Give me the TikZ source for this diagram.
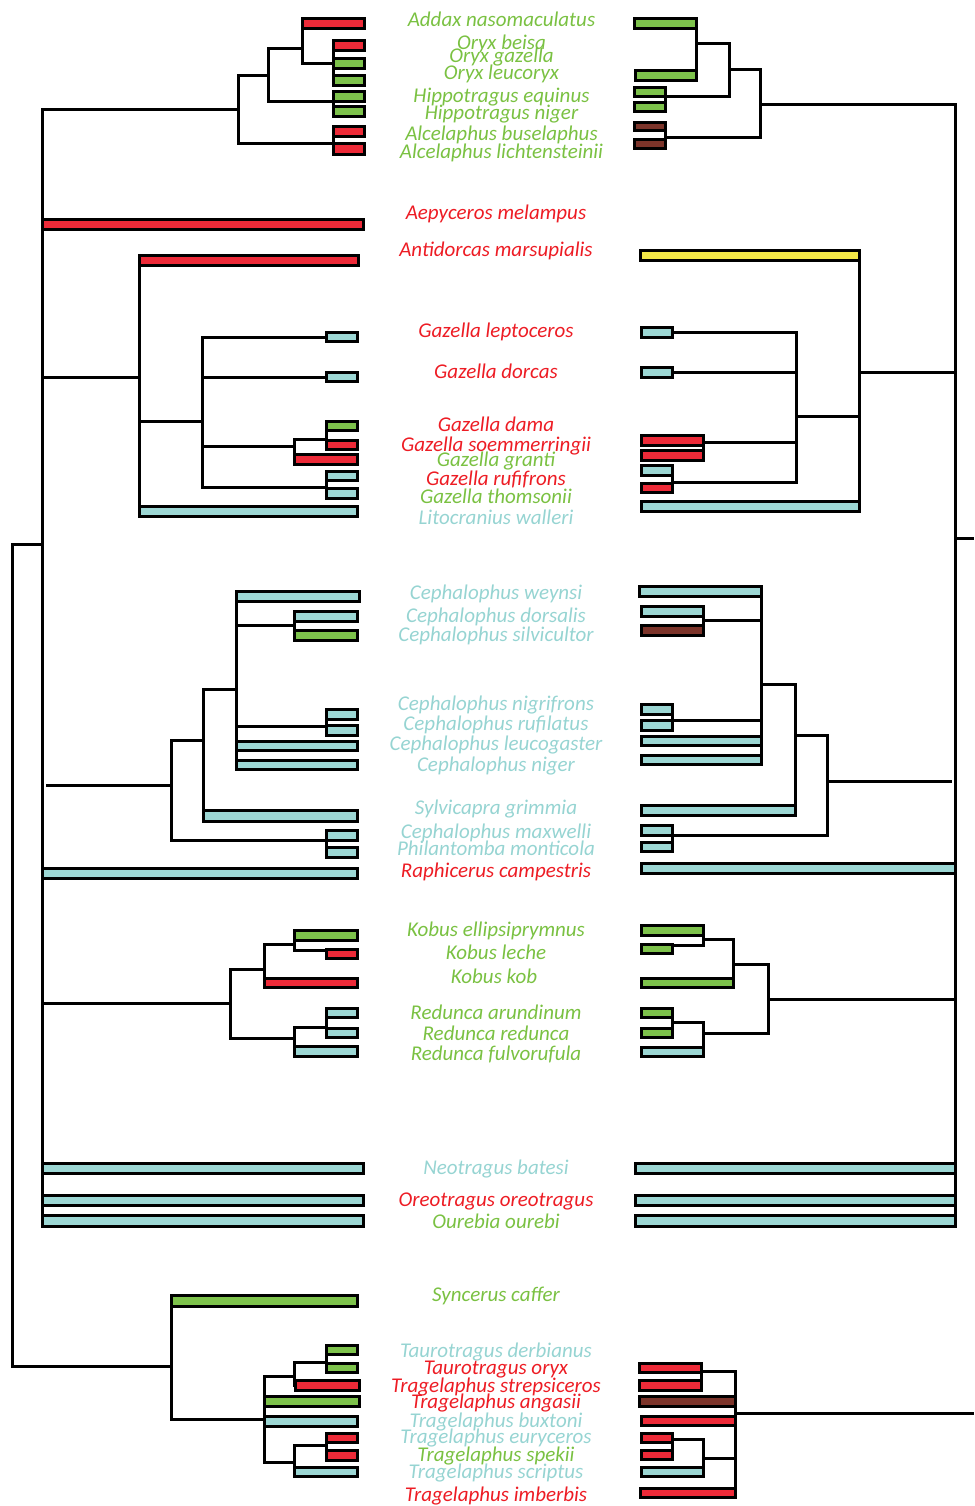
\documentclass[tikz,border=0pt]{standalone}
\usepackage{fontspec}
\setmainfont{Carlito}
\pgfdeclarelayer{bg}
\pgfsetlayers{bg,main}

\definecolor{cred}{RGB}{237,42,56}
\definecolor{cgreen}{RGB}{125,194,75}
\definecolor{ccyan}{RGB}{156,215,212}
\definecolor{cbrown}{RGB}{124,52,42}
\definecolor{cyellow}{RGB}{244,233,72}
\definecolor{tred}{RGB}{237,28,36}
\definecolor{tgreen}{RGB}{122,193,66}
\definecolor{tcyan}{RGB}{150,212,210}

\tikzset{
  barbox/.style={draw=black, line width=3.2pt, inner sep=0pt, outer sep=0pt, rectangle},
  branch/.style={draw=black, line width=3pt},
  taxon/.style={font=\fontsize{21}{21}\selectfont\itshape, inner sep=0pt, anchor=base},
}
% bar node from its outer corners: name, x1, y1, x2, y2, fill
\newcommand\taxbar[6]{\node[barbox, fill=#6, minimum width={#4-#2-3.2}, minimum height={#5-#3-3.2}] (#1) at ({(#2+#4)/2},{(#3+#5)/2}) {};}

\begin{document}
\begin{tikzpicture}[x=1pt,y=-1pt]
\useasboundingbox (0,0) rectangle (974,1506);

% ---------- left bars ----------
\taxbar{la1}{301}{17}{366}{30}{cred}
\taxbar{la2}{332}{39}{366}{52}{cred}
\taxbar{la3}{332}{57}{366}{70}{cgreen}
\taxbar{la4}{332}{74}{366}{87}{cgreen}
\taxbar{la5}{332}{90}{366}{103}{cgreen}
\taxbar{la6}{332}{105}{366}{118}{cgreen}
\taxbar{la7}{332}{125}{366}{138}{cred}
\taxbar{la8}{332}{142}{366}{156}{cred}
\taxbar{lb1}{41}{218}{365}{231}{cred}
\taxbar{lb2}{138}{254}{360}{267}{cred}
\taxbar{lc1}{325}{331}{359}{343}{ccyan}
\taxbar{lc2}{325}{371}{359}{383}{ccyan}
\taxbar{lc3}{325}{420}{359}{432}{cgreen}
\taxbar{lc4}{325}{439}{359}{451}{cred}
\taxbar{lc5}{293}{453}{359}{466}{cred}
\taxbar{lc6}{325}{470}{359}{482}{ccyan}
\taxbar{lc7}{325}{487}{359}{500}{ccyan}
\taxbar{lc8}{138}{505}{359}{518}{ccyan}
\taxbar{ld1}{235}{590}{361}{603}{ccyan}
\taxbar{ld2}{293}{610}{359}{623}{ccyan}
\taxbar{ld3}{293}{629}{359}{642}{cgreen}
\taxbar{ld4}{325}{708}{359}{721}{ccyan}
\taxbar{ld5}{325}{724}{359}{737}{ccyan}
\taxbar{ld6}{235}{740}{359}{752}{ccyan}
\taxbar{ld7}{235}{759}{359}{771}{ccyan}
\taxbar{ld8}{202}{809}{359}{823}{ccyan}
\taxbar{ld9}{325}{829}{359}{842}{ccyan}
\taxbar{ld10}{325}{846}{359}{859}{ccyan}
\taxbar{ld11}{41}{867}{359}{880}{ccyan}
\taxbar{le1}{293}{929}{359}{942}{cgreen}
\taxbar{le2}{325}{948}{359}{960}{cred}
\taxbar{le3}{263}{977}{359}{989}{cred}
\taxbar{le4}{325}{1007}{359}{1019}{ccyan}
\taxbar{le5}{325}{1027}{359}{1039}{ccyan}
\taxbar{le6}{293}{1045}{359}{1058}{ccyan}
\taxbar{lf1}{41}{1162}{365}{1175}{ccyan}
\taxbar{lf2}{41}{1194}{365}{1207}{ccyan}
\taxbar{lf3}{41}{1214}{365}{1228}{ccyan}
\taxbar{lg1}{170}{1294}{359}{1308}{cgreen}
\taxbar{lg2}{325}{1344}{359}{1356}{cgreen}
\taxbar{lg3}{325}{1362}{359}{1374}{cgreen}
\taxbar{lg4}{294}{1379}{361}{1392}{cred}
\taxbar{lg5}{263}{1395}{361}{1408}{cgreen}
\taxbar{lg6}{263}{1415}{359}{1428}{ccyan}
\taxbar{lg7}{325}{1432}{359}{1444}{cred}
\taxbar{lg8}{325}{1449}{359}{1462}{cred}
\taxbar{lg9}{293}{1466}{359}{1478}{ccyan}

% ---------- right bars ----------
\taxbar{ra1}{633}{17}{698}{30}{cgreen}
\taxbar{ra4}{634}{69}{698}{82}{cgreen}
\taxbar{ra5}{633}{86}{667}{98}{cgreen}
\taxbar{ra6}{633}{101}{667}{113}{cgreen}
\taxbar{ra7}{633}{121}{667}{132}{cbrown}
\taxbar{ra8}{633}{138}{667}{150}{cbrown}
\taxbar{rb2}{639}{249}{861}{262}{cyellow}
\taxbar{rc1}{640}{326}{674}{339}{ccyan}
\taxbar{rc2}{640}{366}{674}{379}{ccyan}
\taxbar{rc4}{640}{434}{705}{447}{cred}
\taxbar{rc5}{640}{449}{705}{462}{cred}
\taxbar{rc6}{640}{464}{674}{477}{ccyan}
\taxbar{rc7}{640}{482}{674}{494}{cred}
\taxbar{rc8}{640}{500}{861}{513}{ccyan}
\taxbar{rd1}{638}{585}{763}{598}{ccyan}
\taxbar{rd2}{640}{605}{705}{618}{ccyan}
\taxbar{rd3}{640}{624}{705}{637}{cbrown}
\taxbar{rd4}{640}{703}{674}{716}{ccyan}
\taxbar{rd5}{640}{719}{674}{732}{ccyan}
\taxbar{rd6}{640}{735}{763}{747}{ccyan}
\taxbar{rd7}{640}{754}{763}{766}{ccyan}
\taxbar{rd8}{640}{804}{797}{817}{ccyan}
\taxbar{rd9}{640}{824}{674}{837}{ccyan}
\taxbar{rd10}{640}{841}{674}{853}{ccyan}
\taxbar{rd11}{640}{862}{957}{875}{ccyan}
\taxbar{re1}{640}{924}{705}{937}{cgreen}
\taxbar{re2}{640}{943}{674}{955}{cgreen}
\taxbar{re3}{640}{977}{735}{989}{cgreen}
\taxbar{re4}{640}{1007}{674}{1019}{cgreen}
\taxbar{re5}{640}{1027}{674}{1039}{cgreen}
\taxbar{re6}{640}{1046}{705}{1058}{ccyan}
\taxbar{rf1}{634}{1162}{957}{1175}{ccyan}
\taxbar{rf2}{634}{1194}{957}{1207}{ccyan}
\taxbar{rf3}{634}{1214}{957}{1228}{ccyan}
\taxbar{rg3}{638}{1362}{703}{1374}{cred}
\taxbar{rg4}{638}{1379}{703}{1392}{cred}
\taxbar{rg5}{638}{1395}{737}{1408}{cbrown}
\taxbar{rg6}{640}{1415}{737}{1427}{cred}
\taxbar{rg7}{640}{1432}{674}{1444}{cred}
\taxbar{rg8}{640}{1449}{674}{1461}{cred}
\taxbar{rg9}{640}{1466}{705}{1478}{ccyan}
\taxbar{rg10}{639}{1487}{737}{1499}{cred}

\begin{pgfonlayer}{bg}
% ---------- left tree ----------
\coordinate (rootL) at (12.3,544);
\coordinate (spL) at (42.5,544);
\coordinate (bovL) at (171.5,1366);
\draw[branch] (spL) -- (rootL) |- (bovL);

\coordinate (aL) at (238.5,109.3);
\coordinate (bL) at (268.5,76);
\coordinate (cL) at (302.5,48.3);
\coordinate (oryxL) at (333.5,63.3);
\coordinate (hipL) at (333.5,101.7);
\coordinate (alcL) at (333.5,144);
\draw[branch] (spL) |- (aL);
\draw[branch] (aL) |- (bL);
\draw[branch] (aL) |- (alcL);
\draw[branch] (bL) |- (cL);
\draw[branch] (bL) |- (hipL);
\draw[branch] (cL) |- (la1.west);
\draw[branch] (cL) |- (oryxL);
\foreach \n in {la2,la3,la4} \draw[branch] (oryxL) |- (\n.west);
\foreach \n in {la5,la6} \draw[branch] (hipL) |- (\n.west);
\foreach \n in {la7,la8} \draw[branch] (alcL) |- (\n.west);

\draw[branch] (spL) |- (lb1.west);

\coordinate (G1) at (139.5,377.3);
\coordinate (G2) at (202.5,421.3);
\coordinate (G3) at (294.5,446.7);
\coordinate (G4) at (326.5,487.7);
\coordinate (G5) at (326.5,439.5);
\draw[branch] (spL) |- (G1);
\draw[branch] (G1) |- (lb2.west);
\draw[branch] (G1) |- (G2);
\draw[branch] (G1) |- (lc8.west);
\draw[branch] (G2) |- (lc1.west);
\draw[branch] (G2) |- (lc2.west);
\draw[branch] (G2) |- (G3);
\draw[branch] (G2) |- (G4);
\draw[branch] (G3) |- (G5);
\draw[branch] (G3) |- (lc5.west);
\foreach \n in {lc3,lc4} \draw[branch] (G5) |- (\n.west);
\foreach \n in {lc6,lc7} \draw[branch] (G4) |- (\n.west);

\coordinate (cstubL) at (46,785.7);
\coordinate (H1) at (171,785.7);
\coordinate (H2) at (203.5,740);
\coordinate (H3) at (326.5,840.7);
\coordinate (H4) at (236.5,689.7);
\coordinate (H5) at (294.5,625);
\coordinate (H6) at (326.5,726);
\draw[branch] (cstubL) -- (H1);
\draw[branch] (H1) |- (H2);
\draw[branch] (H1) |- (H3);
\draw[branch] (H2) |- (H4);
\draw[branch] (H2) |- (ld8.west);
\draw[branch] (H4) |- (ld1.west);
\draw[branch] (H4) |- (H5);
\draw[branch] (H4) |- (H6);
\draw[branch] (H4) |- (ld6.west);
\draw[branch] (H4) |- (ld7.west);
\foreach \n in {ld2,ld3} \draw[branch] (H5) |- (\n.west);
\foreach \n in {ld4,ld5} \draw[branch] (H6) |- (\n.west);
\foreach \n in {ld9,ld10} \draw[branch] (H3) |- (\n.west);
\draw[branch] (spL) |- (ld11.west);

\coordinate (K1) at (230.7,1003.3);
\coordinate (K2) at (264.5,969);
\coordinate (K3) at (294.5,1038.3);
\coordinate (K4) at (294.5,944);
\coordinate (K6) at (326.5,1027.3);
\draw[branch] (spL) |- (K1);
\draw[branch] (K1) |- (K2);
\draw[branch] (K1) |- (K3);
\draw[branch] (K2) |- (K4);
\draw[branch] (K2) |- (le3.west);
\draw[branch] (K4) |- (le1.west);
\draw[branch] (K4) |- ([yshift=4pt]le2.west);
\draw[branch] (K3) |- (K6);
\draw[branch] (K3) |- (le6.west);
\foreach \n in {le4,le5} \draw[branch] (K6) |- (\n.west);

\foreach \n in {lf1,lf2,lf3} \draw[branch] (spL) |- (\n.west);

\coordinate (T1) at (264.5,1419);
\coordinate (T2) at (294.5,1376.3);
\coordinate (T3) at (294.5,1462.7);
\coordinate (T4) at (326.5,1362.3);
\coordinate (T5) at (326.5,1445);
\draw[branch] (bovL) |- (lg1.west);
\draw[branch] (bovL) |- (T1);
\draw[branch] (T1) |- (T2);
\draw[branch] (T1) |- (lg5.west);
\draw[branch] (T1) |- (lg6.west);
\draw[branch] (T1) |- (T3);
\draw[branch] (T2) |- (T4);
\draw[branch] (T2) |- (lg4.west);
\foreach \n in {lg2,lg3} \draw[branch] (T4) |- (\n.west);
\draw[branch] (T3) |- (T5);
\draw[branch] (T3) |- (lg9.west);
\foreach \n in {lg7,lg8} \draw[branch] (T5) |- (\n.west);

% ---------- right tree ----------
\coordinate (RS) at (955.5,538);
\coordinate (rootR) at (974,538);
\draw[branch] (RS) -- (rootR);

\coordinate (RA) at (760,105);
\coordinate (RB) at (729.5,70);
\coordinate (RC) at (696.5,43.5);
\coordinate (rhip) at (665.5,96.5);
\coordinate (ralc) at (665.5,138);
\draw[branch] (RS) |- (RA);
\draw[branch] (RA) |- (RB);
\draw[branch] (RA) |- (ralc);
\draw[branch] (RB) |- (RC);
\draw[branch] (RB) |- (rhip);
\foreach \n in {ra1,ra4} \draw[branch] (RC) |- (\n.east);
\foreach \n in {ra5,ra6} \draw[branch] (rhip) |- (\n.east);
\foreach \n in {ra7,ra8} \draw[branch] (ralc) |- (\n.east);

\coordinate (RG1) at (859.5,372);
\coordinate (RG2) at (796,416);
\coordinate (RG3) at (703.5,442);
\coordinate (RG4) at (672.5,482.3);
\draw[branch] (RS) |- (RG1);
\draw[branch] (RG1) |- (rb2.east);
\draw[branch] (RG1) |- (RG2);
\draw[branch] (RG1) |- (rc8.east);
\draw[branch] (RG2) |- (rc1.east);
\draw[branch] (RG2) |- (rc2.east);
\draw[branch] (RG2) |- (RG3);
\draw[branch] (RG2) |- (RG4);
\foreach \n in {rc4,rc5} \draw[branch] (RG3) |- (\n.east);
\foreach \n in {rc6,rc7} \draw[branch] (RG4) |- (\n.east);

\coordinate (RH1) at (827.5,781);
\coordinate (cstubR) at (952,781);
\coordinate (RH2) at (795.5,735.7);
\coordinate (RH3) at (672.5,835.7);
\coordinate (RH4) at (761.5,684.7);
\coordinate (RH5) at (703.5,620);
\coordinate (RH6) at (672.5,720.7);
\draw[branch] (RH1) -- (cstubR);
\draw[branch] (RH1) |- (RH2);
\draw[branch] (RH1) |- (RH3);
\draw[branch] (RH2) |- (RH4);
\draw[branch] (RH2) |- (rd8.east);
\draw[branch] (RH4) |- (rd1.east);
\draw[branch] (RH4) |- (RH5);
\draw[branch] (RH4) |- (RH6);
\draw[branch] (RH4) |- (rd6.east);
\draw[branch] (RH4) |- (rd7.east);
\foreach \n in {rd2,rd3} \draw[branch] (RH5) |- (\n.east);
\foreach \n in {rd4,rd5} \draw[branch] (RH6) |- (\n.east);
\foreach \n in {rd9,rd10} \draw[branch] (RH3) |- (\n.east);
\draw[branch] (RS) |- (rd11.east);

\coordinate (RK1) at (768,999);
\coordinate (RK2) at (733.5,964);
\coordinate (RK3) at (703.5,1033);
\coordinate (RK4) at (703.5,939.5);
\coordinate (RK5) at (672.5,1022);
\draw[branch] (RS) |- (RK1);
\draw[branch] (RK1) |- (RK2);
\draw[branch] (RK1) |- (RK3);
\draw[branch] (RK2) |- (RK4);
\draw[branch] (RK2) |- (re3.east);
\draw[branch] (RK4) |- (re1.east);
\draw[branch] (RK4) |- ([yshift=4pt]re2.east);
\draw[branch] (RK3) |- (RK5);
\draw[branch] (RK3) |- (re6.east);
\foreach \n in {re4,re5} \draw[branch] (RK5) |- (\n.east);

\foreach \n in {rf1,rf2,rf3} \draw[branch] (RS) |- (\n.east);

\coordinate (RT1) at (735.5,1413);
\coordinate (tstubR) at (974,1413);
\coordinate (RT2) at (701.5,1371.3);
\coordinate (RT3) at (703.5,1458);
\coordinate (RT4) at (672.5,1439.5);
\draw[branch] (RT1) -- (tstubR);
\draw[branch] (RT1) |- (RT2);
\draw[branch] (RT1) |- (rg5.east);
\draw[branch] (RT1) |- (rg6.east);
\draw[branch] (RT1) |- (RT3);
\draw[branch] (RT1) |- (rg10.east);
\foreach \n in {rg3,rg4} \draw[branch] (RT2) |- (\n.east);
\draw[branch] (RT3) |- (RT4);
\draw[branch] (RT3) |- (rg9.east);
\foreach \n in {rg7,rg8} \draw[branch] (RT4) |- (\n.east);
\end{pgfonlayer}

% ---------- taxon names ----------
\node[taxon, text=tgreen] (t01) at (501.5,26.7) {Addax nasomaculatus};
\node[taxon, text=tgreen] (t02) at (501.5,49.3) {Oryx beisa};
\node[taxon, text=tgreen] (t03) at (501.5,63) {Oryx gazella};
\node[taxon, text=tgreen] (t04) at (501.5,80) {Oryx leucoryx};
\node[taxon, text=tgreen] (t05) at (501.5,102.7) {Hippotragus equinus};
\node[taxon, text=tgreen] (t06) at (501.5,120) {Hippotragus niger};
\node[taxon, text=tgreen] (t07) at (501.5,141) {Alcelaphus buselaphus};
\node[taxon, text=tgreen] (t08) at (501.5,159) {Alcelaphus lichtensteinii};
\node[taxon, text=tred] (t09) at (496,220) {Aepyceros melampus};
\node[taxon, text=tred] (t10) at (496,256.5) {Antidorcas marsupialis};
\node[taxon, text=tred] (t11) at (496,337.3) {Gazella leptoceros};
\node[taxon, text=tred] (t12) at (496,378) {Gazella dorcas};
\node[taxon, text=tred] (t13) at (496,431.5) {Gazella dama};
\node[taxon, text=tred] (t14) at (496,451) {Gazella soemmerringii};
\node[taxon, text=tgreen] (t15) at (496,466.5) {Gazella granti};
\node[taxon, text=tred] (t16) at (496,485.5) {Gazella rufifrons};
\node[taxon, text=tgreen] (t17) at (496,503) {Gazella thomsonii};
\node[taxon, text=tcyan] (t18) at (496,524) {Litocranius walleri};
\node[taxon, text=tcyan] (t19) at (496,599) {Cephalophus weynsi};
\node[taxon, text=tcyan] (t20) at (496,622.5) {Cephalophus dorsalis};
\node[taxon, text=tcyan] (t21) at (496,641.5) {Cephalophus silvicultor};
\node[taxon, text=tcyan] (t22) at (496,710.5) {Cephalophus nigrifrons};
\node[taxon, text=tcyan] (t23) at (496,730) {Cephalophus rufilatus};
\node[taxon, text=tcyan] (t24) at (496,750.5) {Cephalophus leucogaster};
\node[taxon, text=tcyan] (t25) at (496,771.5) {Cephalophus niger};
\node[taxon, text=tcyan] (t26) at (496,814) {Sylvicapra grimmia};
\node[taxon, text=tcyan] (t27) at (496,838) {Cephalophus maxwelli};
\node[taxon, text=tcyan] (t28) at (496,855) {Philantomba monticola};
\node[taxon, text=tred] (t29) at (496,877.5) {Raphicerus campestris};
\node[taxon, text=tgreen] (t30) at (496,936) {Kobus ellipsiprymnus};
\node[taxon, text=tgreen] (t31) at (496,959) {Kobus leche};
\node[taxon, text=tgreen] (t32) at (494,983) {Kobus kob};
\node[taxon, text=tgreen] (t33) at (496,1019) {Redunca arundinum};
\node[taxon, text=tgreen] (t34) at (496,1040) {Redunca redunca};
\node[taxon, text=tgreen] (t35) at (496,1060) {Redunca fulvorufula};
\node[taxon, text=tcyan] (t36) at (496,1174) {Neotragus batesi};
\node[taxon, text=tred] (t37) at (496,1206) {Oreotragus oreotragus};
\node[taxon, text=tgreen] (t38) at (496,1228.5) {Ourebia ourebi};
\node[taxon, text=tgreen] (t39) at (496,1301.5) {Syncerus caffer};
\node[taxon, text=tcyan] (t40) at (496,1357) {Taurotragus derbianus};
\node[taxon, text=tred] (t41) at (496,1374) {Taurotragus oryx};
\node[taxon, text=tred] (t42) at (496,1392) {Tragelaphus strepsiceros};
\node[taxon, text=tred] (t43) at (496,1408.5) {Tragelaphus angasii};
\node[taxon, text=tcyan] (t44) at (496,1427) {Tragelaphus buxtoni};
\node[taxon, text=tcyan] (t45) at (496,1443.5) {Tragelaphus euryceros};
\node[taxon, text=tgreen] (t46) at (496,1461) {Tragelaphus spekii};
\node[taxon, text=tcyan] (t47) at (496,1478) {Tragelaphus scriptus};
\node[taxon, text=tred] (t48) at (496,1501.5) {Tragelaphus imberbis};
\end{tikzpicture}
\end{document}
